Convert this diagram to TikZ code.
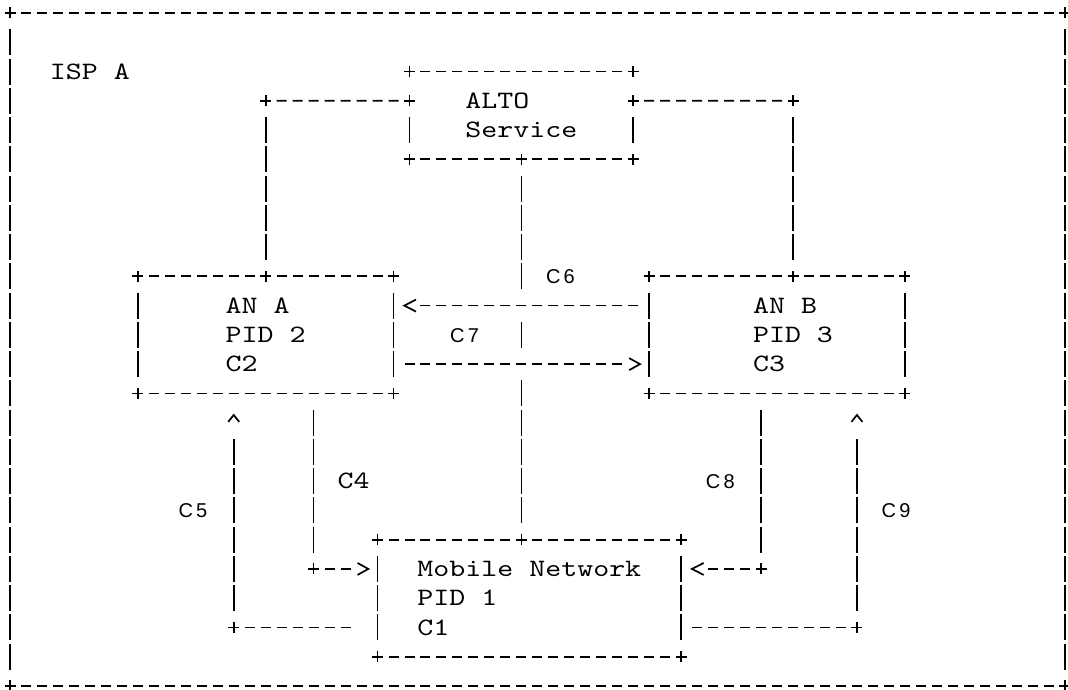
\documentclass[tikz,border=0pt]{standalone}
\usepackage{fontspec}
\usetikzlibrary{fit}
\newfontfamily\lblsans{Liberation Sans}
% typewriter face widened to a 15.98pt character pitch
\newfontfamily\cellmono{lmmono10-regular.otf}[FakeStretch=1.2175]
% two characters, each centred in one character cell
\newcommand\cellpair[2]{\makebox[15.98pt]{#1}\makebox[15.98pt]{#2}}
% "+" junction mark
\newcommand\plusmark[1]{\draw[stroke] ([xshift=-5.5pt]#1) -- ([xshift=5.5pt]#1) ([yshift=-5.5pt]#1) -- ([yshift=5.5pt]#1);}
% box outline in dashes and bars; optional arg = side rows taken by junctions
\newcommand\asciibox[2][0]{%
  \draw[hline] ([xshift=10.98pt]#2.north west) -- ([xshift=-10.98pt]#2.north east);
  \draw[hline] ([xshift=10.98pt]#2.south west) -- ([xshift=-10.98pt]#2.south east);
  \draw[vline] ([yshift={-16.26pt-#1*29.26pt}]#2.north west) -- ([yshift=16.26pt]#2.south west);
  \draw[vline] ([yshift={-16.26pt-#1*29.26pt}]#2.north east) -- ([yshift=16.26pt]#2.south east);
  \plusmark{#2.north west}\plusmark{#2.north east}\plusmark{#2.south west}\plusmark{#2.south east}}
% arrow heads
\newcommand\tipleft[1]{\draw[tipline] ([xshift=22.5pt,yshift=6pt]#1) -- ([xshift=10.8pt]#1) -- ([xshift=22.5pt,yshift=-6pt]#1);}
\newcommand\tipright[1]{\draw[tipline] ([xshift=-20pt,yshift=6pt]#1) -- ([xshift=-9.2pt]#1) -- ([xshift=-20pt,yshift=-6pt]#1);}
\newcommand\tipup[1]{\draw[tipline] ([xshift=-5.5pt,yshift=-28.5pt]#1) -- ([yshift=-21.6pt]#1) -- ([xshift=5.5pt,yshift=-28.5pt]#1);}

\begin{document}
\begin{tikzpicture}[
  x={(15.98pt,0pt)}, y={(0pt,-29.26pt)},
  stroke/.style={line width=1.7pt},
  hline/.style={stroke, dash pattern=on 10pt off 5.98pt},
  vline/.style={stroke, dash pattern=on 26pt off 3.26pt},
  crossline/.style={stroke, dash pattern=on 26pt off 3.26pt on 26pt off 3.26pt on 26pt off 3.26pt on 26pt off 32.52pt on 26pt off 32.52pt on 26pt off 3.26pt on 26pt off 3.26pt on 26pt off 3.26pt on 26pt off 3.26pt on 26pt off 3.26pt},
  tipline/.style={stroke, line join=miter},
  region/.style={rectangle, inner sep=0pt, outer sep=0pt},
  mono/.style={font=\cellmono\fontsize{25pt}{29.26pt}\selectfont,
    anchor=base west, inner sep=0pt, outer sep=0pt, yshift=-7.6pt},
  lbl/.style={font=\lblsans\fontsize{20pt}{24pt}\selectfont,
    anchor=base west, inner sep=0pt, outer sep=0pt, yshift=-7.2pt}
]
\fill[white] (-0.6258,-0.4443) rectangle (66.208,23.137);
\useasboundingbox (-0.6258,-0.4443) rectangle (66.208,23.137);

% boxes
\node[region, fit={(0,0) (66,23)}] (isp) {};
\node[region, fit={(25,2) (39,5)}] (alto) {};
\node[region, fit={(8,9) (24,13)}] (ana) {};
\node[region, fit={(40,9) (56,13)}] (anb) {};
\node[region, fit={(23,18) (42,22)}] (mob) {};

\asciibox{isp}
\asciibox[1]{alto}
\asciibox{ana}
\asciibox{anb}
\asciibox{mob}

% bends and ports
\coordinate (j16) at (16,3);
\coordinate (j49) at (49,3);
\coordinate (j19) at (19,19);
\coordinate (j47) at (47,19);
\coordinate (j14) at (14,21);
\coordinate (j53) at (53,21);
\coordinate (alto-w) at ([yshift=-29.26pt]alto.north west);
\coordinate (alto-e) at ([yshift=-29.26pt]alto.north east);
\coordinate (ana-top) at (j16 |- ana.north);
\coordinate (anb-top) at (j49 |- anb.north);
\coordinate (mob-top) at (alto.south |- mob.north);
\coordinate (ana-e10) at ([yshift=-29.26pt]ana.north east);
\coordinate (ana-e12) at ([yshift=29.26pt]ana.south east);
\coordinate (anb-w10) at ([yshift=-29.26pt]anb.north west);
\coordinate (anb-w12) at ([yshift=29.26pt]anb.south west);
\coordinate (ana-c5) at (j14 |- ana.south);
\coordinate (ana-c4) at (j19 |- ana.south);
\coordinate (anb-c8) at (j47 |- anb.south);
\coordinate (anb-c9) at (j53 |- anb.south);
\coordinate (mob-w19) at (j19 -| mob.west);
\coordinate (mob-e19) at (j47 -| mob.east);
\coordinate (mob-w21) at (j14 -| mob.west);
\coordinate (mob-e21) at (j53 -| mob.east);

% ALTO Service to AN A
\draw[hline] ([xshift=10.98pt]j16) -- ([xshift=-10.98pt]alto-w);
\draw[vline] ([yshift=-16.26pt]j16) -- ([yshift=16.26pt]ana-top);
% ALTO Service to AN B
\draw[hline] ([xshift=10.98pt]alto-e) -- ([xshift=-10.98pt]j49);
\draw[vline] ([yshift=-16.26pt]j49) -- ([yshift=16.26pt]anb-top);
% ALTO Service to Mobile Network (C6), passing the C7 arrows
\draw[crossline] ([yshift=-16.26pt]alto.south) -- ([yshift=16.26pt]mob-top);
% C7: AN B to AN A and back
\draw[hline] ([xshift=-10.98pt]anb-w10) -- ([xshift=26.96pt]ana-e10);
\tipleft{ana-e10}
\draw[hline] ([xshift=10.98pt]ana-e12) -- ([xshift=-26.96pt]anb-w12);
\tipright{anb-w12}
% C4: AN A to Mobile Network
\draw[vline] ([yshift=-16.26pt]ana-c4) -- ([yshift=16.26pt]j19);
\draw[hline] ([xshift=10.98pt]j19) -- ([xshift=-26.96pt]mob-w19);
\tipright{mob-w19}
% C5: Mobile Network to AN A
\draw[hline] ([xshift=10.98pt]j14) -- ([xshift=-26.96pt]mob-w21);
\draw[vline] ([yshift=16.26pt]j14) -- ([yshift=-45.52pt]ana-c5);
\tipup{ana-c5}
% C8: AN B to Mobile Network
\draw[vline] ([yshift=-16.26pt]anb-c8) -- ([yshift=16.26pt]j47);
\draw[hline] ([xshift=-10.98pt]j47) -- ([xshift=26.96pt]mob-e19);
\tipleft{mob-e19}
% C9: Mobile Network to AN B
\draw[hline] ([xshift=10.98pt]mob-e21) -- ([xshift=-10.98pt]j53);
\draw[vline] ([yshift=16.26pt]j53) -- ([yshift=-45.52pt]anb-c9);
\tipup{anb-c9}

% junction marks
\foreach \p in {alto-w, alto-e, j16, j49, ana-top, anb-top, alto.south, mob-top, j19, j47, j14, j53}
  {\plusmark{\p}}

% texts
\node[mono] (isp-name) at (2.5,2) {ISP A};
\node[mono] (alto-l1) at (28.5,3) {ALTO};
\node[mono] (alto-l2) at (28.5,4) {Service};
\node[mono] (ana-l1) at (13.5,10) {AN A};
\node[mono] (ana-l2) at (13.5,11) {PID 2};
\node[mono] (ana-l3) at (13.5,12) {C2};
\node[mono] (anb-l1) at (46.5,10) {AN B};
\node[mono] (anb-l2) at (46.5,11) {PID 3};
\node[mono] (anb-l3) at (46.5,12) {C3};
\node[mono] (mob-l1) at (25.5,19) {Mobile Network};
\node[mono] (mob-l2) at (25.5,20) {PID 1};
\node[mono] (mob-l3) at (25.5,21) {C1};
\node[mono] (c4) at (20.5,16) {C4};
\node[lbl] (c5) at (10.5,17) {\cellpair{C}{5}};
\node[lbl] (c6) at (33.5,9) {\cellpair{C}{6}};
\node[lbl] (c7) at (27.5,11) {\cellpair{C}{7}};
\node[lbl] (c8) at (43.5,16) {\cellpair{C}{8}};
\node[lbl] (c9) at (54.5,17) {\cellpair{C}{9}};
\end{tikzpicture}
\end{document}
